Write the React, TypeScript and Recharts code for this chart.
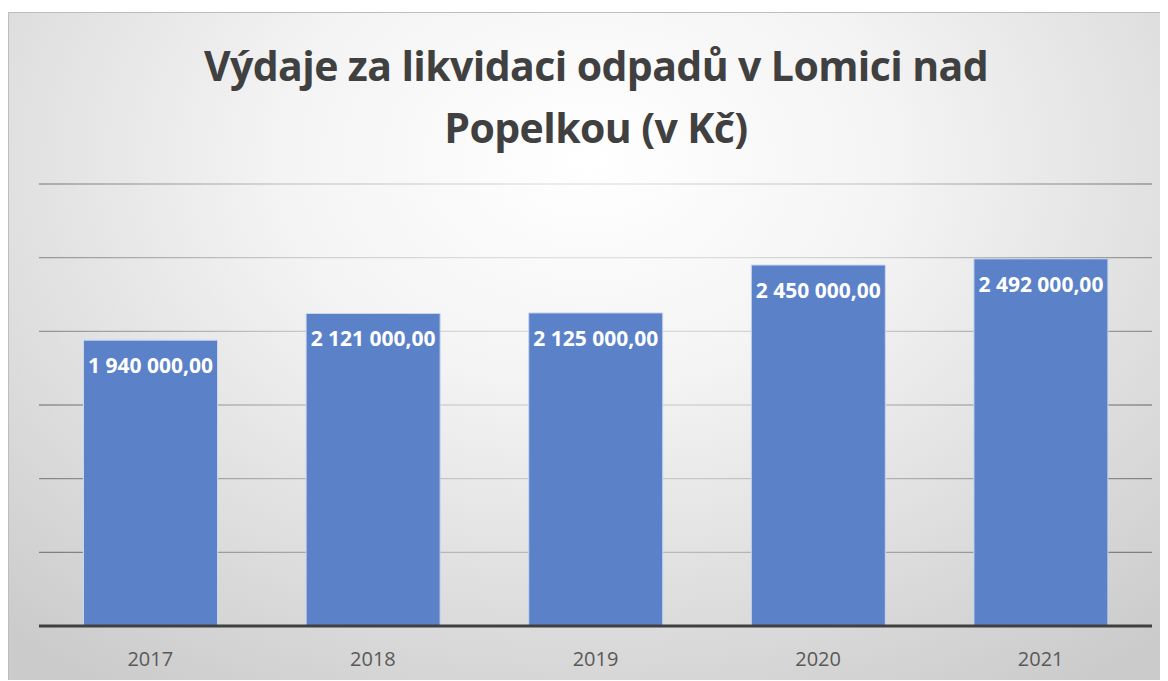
import React from 'react';
import { BarChart, Bar, XAxis, YAxis, CartesianGrid, LabelList } from 'recharts';

const years = ['2017', '2018', '2019', '2020', '2021'];
const costs = [1940000, 2121000, 2125000, 2450000, 2492000];
const yTicks = [0, 500000, 1000000, 1500000, 2000000, 2500000, 3000000];

const titleLines = ['Výdaje za likvidaci odpadů v Lomici nad', 'Popelkou (v Kč)'];

const chartData = years.map((year, i) => ({ year, cost: costs[i] }));

const formatCzk = (v: number) => {
  const [intPart, dec] = v.toFixed(2).split('.');
  return intPart.replace(/\B(?=(\d{3})+(?!\d))/g, ' ') + ',' + dec;
};

const W = 1160;
const H = 668;

const App: React.FC = () => {
  return (
    <div
      style={{
        position: 'relative',
        width: W,
        height: H,
        marginTop: 4,
        boxSizing: 'border-box',
        borderTop: '1px solid #bdbdbd',
        borderLeft: '1px solid #bdbdbd',
        background: 'radial-gradient(ellipse 75% 95% at 50% 22%, #ffffff 0%, #f4f4f4 35%, #dedede 70%, #cbcbcb 100%)',
        fontFamily: '"Open Sans", sans-serif',
        overflow: 'hidden',
      }}
    >
      <div
        style={{
          position: 'absolute',
          top: 21,
          left: 7,
          width: W,
          textAlign: 'center',
          color: '#404040',
          fontWeight: 700,
          fontSize: 41,
          lineHeight: '62px',
          letterSpacing: -0.6,
        }}
      >
        {titleLines.map(line => (
          <div key={line}>{line}</div>
        ))}
      </div>
      <div style={{ position: 'absolute', left: -1, top: -1 }}>
        <BarChart
          width={W}
          height={H}
          data={chartData}
          margin={{ top: 172, right: 16, bottom: 0, left: 31 }}
          barCategoryGap="20%"
        >
          <defs>
            <radialGradient id="gridGrad" gradientUnits="userSpaceOnUse" cx={580} cy={150} r={660}>
              <stop offset="0%" stopColor="#e8e8e8" />
              <stop offset="45%" stopColor="#cfcfcf" />
              <stop offset="100%" stopColor="#808080" />
            </radialGradient>
          </defs>
          <CartesianGrid vertical={false} stroke="url(#gridGrad)" strokeWidth={1.3} />
          <YAxis hide domain={[0, 3000000]} ticks={yTicks} />
          <XAxis
            dataKey="year"
            height={54}
            axisLine={{ stroke: '#404040', strokeWidth: 3 }}
            tickLine={false}
            tick={{ fill: '#595959', fontSize: 20, dy: 18 }}
          />
          <Bar dataKey="cost" fill="#5b82c8" stroke="#c9d7ee" strokeWidth={1} isAnimationActive={false}>
            <LabelList
              dataKey="cost"
              position="insideTop"
              offset={18}
              formatter={(v: any) => formatCzk(Number(v))}
              fill="#ffffff"
              fontSize={21}
              fontWeight={700}
            />
          </Bar>
        </BarChart>
      </div>
    </div>
  );
};

export default App;
